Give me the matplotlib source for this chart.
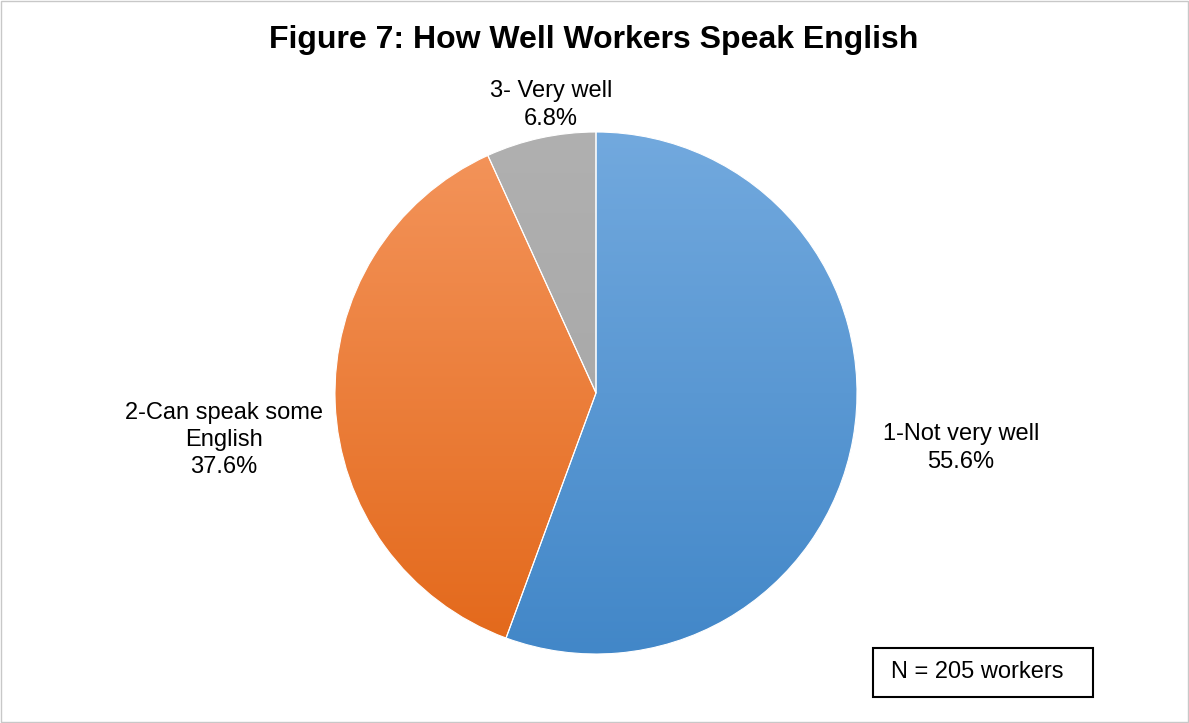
import numpy as np
import matplotlib as mpl
mpl.use('Agg')
import matplotlib.pyplot as plt
from matplotlib.colors import LinearSegmentedColormap
from matplotlib.patches import Rectangle

plt.rcParams['font.family'] = ['Liberation Sans', 'DejaVu Sans']

title = "Figure 7: How Well Workers Speak English"
categories = ["1-Not very well", "2-Can speak some\nEnglish", "3- Very well"]
shares = [55.6, 37.6, 6.8]
note = "N = 205 workers"

# top / bottom colours for each slice gradient
grad_top = ["#72a9de", "#f4955c", "#b0b0b0"]
grad_bot = ["#4287c8", "#e3681a", "#a3a3a3"]

W, H = 1189, 723
fig = plt.figure(figsize=(W / 100, H / 100), dpi=100)

# pie centre / radius in pixels
cx, cy, r = 596, 393, 261
ax = fig.add_axes([(cx - r) / W, (H - cy - r) / H, 2 * r / W, 2 * r / H])

wedges, _ = ax.pie(shares, startangle=90, counterclock=False,
                   wedgeprops=dict(edgecolor='white', linewidth=0.8))

grad = np.linspace(1, 0, 256).reshape(-1, 1)
for w, top, bot in zip(wedges, grad_top, grad_bot):
    w.set_facecolor('none')
    cmap = LinearSegmentedColormap.from_list('g', [bot, top])
    im = ax.imshow(grad, cmap=cmap, extent=[-1, 1, -1, 1], origin='upper',
                   aspect='auto', zorder=0, vmin=0, vmax=1)
    im.set_clip_path(w)

ax.set_xlim(-1, 1)
ax.set_ylim(-1, 1)
ax.set_aspect('equal')
ax.axis('off')

# data labels, placed outside like the original
label_pos = [(961, 448), (224, 440), (551, 105)]
for (px, py), cat, v in zip(label_pos, categories, shares):
    fig.text(px / W, 1 - py / H, "{}\n{:.1f}%".format(cat, v),
             ha='center', va='center', fontsize=17, linespacing=1.3)

fig.text(594 / W, 1 - 40 / H, title, ha='center', va='center',
         fontsize=23, fontweight='bold')

# N box
fig.patches.append(Rectangle((873 / W, 1 - 697 / H), 220 / W, 49 / H,
                             transform=fig.transFigure, fill=False,
                             edgecolor='black', linewidth=1.5))
fig.text(977 / W, 1 - 672 / H, note, ha='center', va='center', fontsize=17)

# outer chart border
fig.patches.append(Rectangle((0.0005, 0.0008), 0.999, 0.9985,
                             transform=fig.transFigure, fill=False,
                             edgecolor='#c8c8c8', linewidth=1))

plt.savefig('out.png', dpi=100)
plt.close(fig)
